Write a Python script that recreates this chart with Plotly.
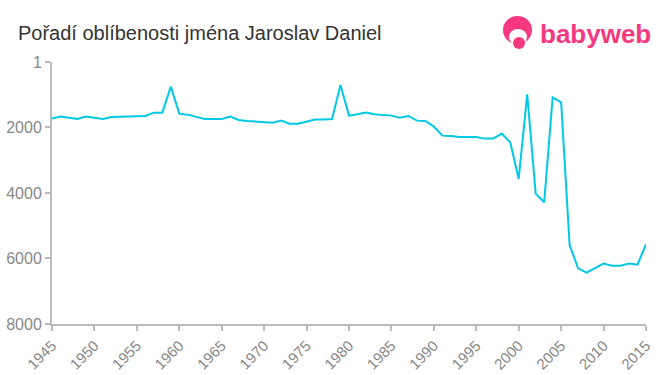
import plotly.graph_objects as go

years = list(range(1945, 2016))
ranks = [1730, 1669, 1700, 1740, 1669, 1700, 1740, 1679, 1669, 1649,
         1649, 1649, 1547, 1547, 753, 1577, 1608, 1679, 1740, 1740,
         1740, 1669, 1771, 1801, 1822, 1822, 1852, 1791, 1883, 1883,
         1822, 1760, 1760, 1740, 702, 1638, 1598, 1547, 1598, 1628,
         1638, 1700, 1649, 1791, 1801, 1974, 2249, 2259, 2290, 2290,
         2290, 2340, 2340, 2188, 2453, 3570, 987, 4020, 4285, 1079,
         1232, 5587, 6300, 6432, 6300, 6157, 6218, 6218, 6157, 6187,
         5567]

x_ticks = list(range(1945, 2016, 5))
y_ticks = [1, 2000, 4000, 6000, 8000]

title_text = "Pořadí oblíbenosti jména Jaroslav Daniel"
logo_text = "babyweb"

PL, PR, PT, PB = 52, 646, 62, 324


def px(x):
    return (x - PL) / (PR - PL)


def py(y):
    return (PB - y) / (PB - PT)


fig = go.Figure()
fig.add_trace(go.Scatter(
    x=years, y=ranks, mode="lines",
    line=dict(color="#00c8e6", width=2),
    hoverinfo="x+y", showlegend=False,
))

fig.update_layout(
    width=660, height=375,
    margin=dict(l=PL, r=660 - PR, t=PT, b=375 - PB),
    paper_bgcolor="white", plot_bgcolor="white",
    font=dict(family="Liberation Sans, Arial, sans-serif", color="#888888"),
    title=dict(text=title_text, x=18 / 660, xanchor="left", y=1 - 33 / 375, yanchor="middle",
               font=dict(size=20, color="#333333")),
    xaxis=dict(
        range=[1945, 2015], tickvals=x_ticks, ticktext=[str(v) for v in x_ticks],
        tickangle=-45, showgrid=False, zeroline=False, automargin=False,
        showline=True, linecolor="#bbbbbb", linewidth=2,
        ticks="outside", ticklen=5, tickcolor="#bbbbbb", tickwidth=2,
        tickfont=dict(size=15, color="#888888"),
    ),
    yaxis=dict(
        range=[8000, 1], tickvals=y_ticks, ticktext=[str(v) for v in y_ticks],
        showgrid=False, zeroline=False, automargin=False,
        showline=True, linecolor="#bbbbbb", linewidth=2,
        ticks="outside", ticklen=5, tickcolor="#bbbbbb", tickwidth=2,
        tickfont=dict(size=16, color="#888888"),
    ),
)

pink = "#f5387f"
# logo icon
fig.add_shape(type="circle", xref="paper", yref="paper",
              x0=px(503), x1=px(532), y0=py(44), y1=py(16),
              fillcolor=pink, line=dict(width=0), layer="above")
fig.add_shape(type="circle", xref="paper", yref="paper",
              x0=px(509), x1=px(527), y0=py(45), y1=py(29),
              fillcolor="white", line=dict(width=0), layer="above")
fig.add_shape(type="circle", xref="paper", yref="paper",
              x0=px(513), x1=px(525), y0=py(49), y1=py(37),
              fillcolor=pink, line=dict(width=0), layer="above")
fig.add_annotation(text="<b>" + logo_text + "</b>", xref="paper", yref="paper",
                   x=px(538), y=py(34), xanchor="left", yanchor="middle",
                   showarrow=False, font=dict(size=26, color=pink,
                                              family="Liberation Sans, Arial, sans-serif"))

fig.write_html("out.html", config={"displayModeBar": False},
               post_script="document.body.style.margin='0';document.body.style.overflow='hidden';")
